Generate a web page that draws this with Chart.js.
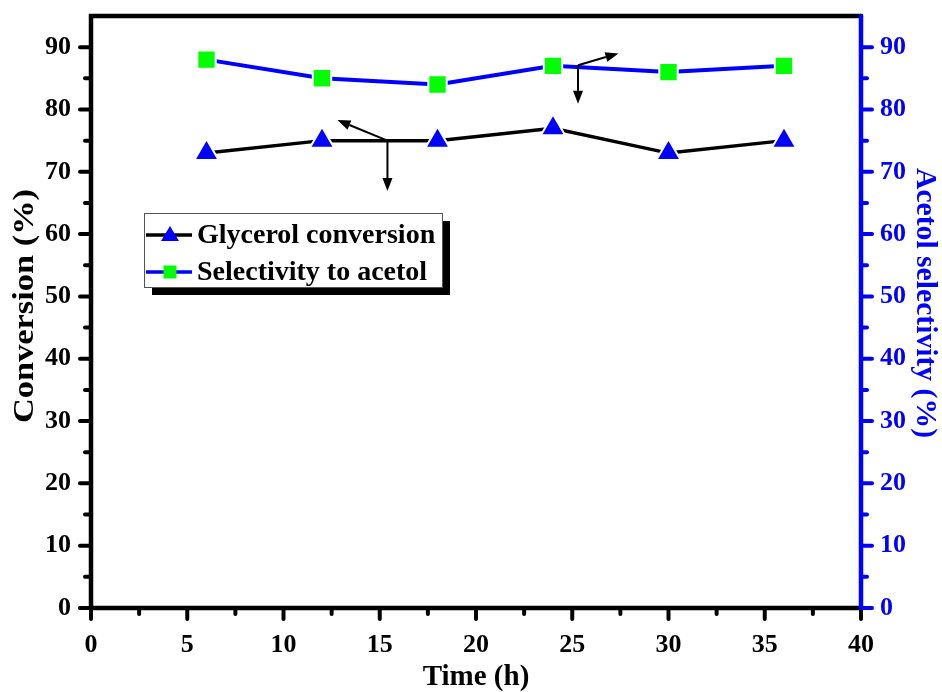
<!DOCTYPE html>
<html>
<head>
<meta charset="utf-8">
<title>Glycerol conversion and acetol selectivity</title>
<script src="https://cdn.jsdelivr.net/npm/chart.js@4"></script>
<style>
  html, body { margin: 0; padding: 0; background: #fff; }
  #wrap { width: 942px; height: 692px; }
</style>
</head>
<body>
<div id="wrap"><canvas id="chart" width="942" height="692"></canvas></div>
<script>
// time on stream (h)
const timeH = [6, 12, 18, 24, 30, 36];
// glycerol conversion (%)
const conversion = [73, 75, 75, 77, 73, 75];
// selectivity to acetol (%)
const selectivity = [88, 85, 84, 87, 86, 87];

const legendLabels = ['Glycerol conversion', 'Selectivity to acetol'];
const xTitle = 'Time (h)';
const yTitle = 'Conversion (%)';
const y2Title = 'Acetol selectivity (%)';

// arrows that point each curve to its axis: [from x, from y, to x, to y] in data units
const arrows = [
  [15.4, 75, 12.8, 78.3],
  [15.4, 75, 15.4, 66.9],
  [25.3, 87.1, 27.4, 89.0],
  [25.3, 87.1, 25.3, 80.9]
];

const FONT = "'Liberation Serif', 'Times New Roman', serif";
const BLUE = '#0000ff';
const GREEN = '#00ff00';

function toPoints(xs, ys) {
  return xs.map((x, i) => ({ x: x, y: ys[i] }));
}

// draw a rotated axis title, stretched along its length to the given size
function sideTitle(ctx, text, cx, cy, rot, length, color) {
  ctx.save();
  ctx.font = 'bold 30px ' + FONT;
  ctx.fillStyle = color;
  ctx.textAlign = 'center';
  ctx.textBaseline = 'middle';
  const w = ctx.measureText(text).width;
  ctx.translate(cx, cy);
  ctx.rotate(rot);
  ctx.scale(length / w, 1);
  ctx.fillText(text, 0, 0);
  ctx.restore();
}

// axis lines, outside major/minor ticks, legend box and arrows
const decorations = {
  id: 'decorations',
  beforeDatasetsDraw(chart) {
    const { ctx, chartArea: a, scales } = chart;
    const x = scales.x, y = scales.y, y2 = scales.y2;
    ctx.save();
    ctx.lineCap = 'round';

    // ticks on bottom axis
    ctx.strokeStyle = '#000';
    ctx.lineWidth = 4;
    for (let v = 0; v <= 40; v += 2.5) {
      const px = x.getPixelForValue(v);
      const len = v % 5 === 0 ? 11 : 6;
      ctx.beginPath();
      ctx.moveTo(px, a.bottom);
      ctx.lineTo(px, a.bottom + len);
      ctx.stroke();
    }
    // ticks on left axis
    for (let v = 0; v <= 90; v += 5) {
      const py = y.getPixelForValue(v);
      const len = v % 10 === 0 ? 11 : 6;
      ctx.beginPath();
      ctx.moveTo(a.left, py);
      ctx.lineTo(a.left - len, py);
      ctx.stroke();
    }
    // ticks on right axis
    ctx.strokeStyle = BLUE;
    for (let v = 0; v <= 90; v += 5) {
      const py = y2.getPixelForValue(v);
      const len = v % 10 === 0 ? 11 : 6;
      ctx.beginPath();
      ctx.moveTo(a.right, py);
      ctx.lineTo(a.right + len, py);
      ctx.stroke();
    }

    // frame
    ctx.lineWidth = 4.5;
    ctx.strokeStyle = '#000';
    ctx.beginPath();
    ctx.moveTo(a.left, a.bottom);
    ctx.lineTo(a.left, a.top);
    ctx.lineTo(a.right, a.top);
    ctx.moveTo(a.left, a.bottom);
    ctx.lineTo(a.right, a.bottom);
    ctx.stroke();
    ctx.strokeStyle = BLUE;
    ctx.beginPath();
    ctx.moveTo(a.right, a.top);
    ctx.lineTo(a.right, a.bottom);
    ctx.stroke();
    ctx.restore();

    sideTitle(ctx, yTitle, 25, 306, -Math.PI / 2, 234, '#000');
    sideTitle(ctx, y2Title, 925, 303, Math.PI / 2, 270, BLUE);
  },
  afterDatasetsDraw(chart) {
    const { ctx, scales } = chart;
    const x = scales.x, y = scales.y;
    ctx.save();

    // arrows
    ctx.strokeStyle = '#000';
    ctx.fillStyle = '#000';
    ctx.lineWidth = 2;
    arrows.forEach(([x0, y0, x1, y1]) => {
      const px0 = x.getPixelForValue(x0), py0 = y.getPixelForValue(y0);
      const px1 = x.getPixelForValue(x1), py1 = y.getPixelForValue(y1);
      const ang = Math.atan2(py1 - py0, px1 - px0);
      const hl = 13, hw = 5;
      const bx = px1 - hl * Math.cos(ang), by = py1 - hl * Math.sin(ang);
      ctx.beginPath();
      ctx.moveTo(px0, py0);
      ctx.lineTo(bx, by);
      ctx.stroke();
      ctx.beginPath();
      ctx.moveTo(px1, py1);
      ctx.lineTo(bx + hw * Math.sin(ang), by - hw * Math.cos(ang));
      ctx.lineTo(bx - hw * Math.sin(ang), by + hw * Math.cos(ang));
      ctx.closePath();
      ctx.fill();
    });

    // legend box with drop shadow
    const lx = 144, ly = 213, lw = 298, lh = 74;
    ctx.fillStyle = '#000';
    ctx.fillRect(lx + 8, ly + 8, lw, lh);
    ctx.fillStyle = '#fff';
    ctx.fillRect(lx, ly, lw, lh);
    ctx.strokeStyle = '#555';
    ctx.lineWidth = 1;
    ctx.strokeRect(lx + 0.5, ly + 0.5, lw, lh);

    const rows = [
      { y: ly + 22, line: '#000', marker: 'triangle', fill: BLUE },
      { y: ly + 59, line: BLUE, marker: 'rect', fill: GREEN }
    ];
    ctx.font = 'bold 28px ' + FONT;
    ctx.textBaseline = 'middle';
    ctx.textAlign = 'left';
    rows.forEach((r, i) => {
      ctx.strokeStyle = r.line;
      ctx.lineWidth = 3.5;
      ctx.beginPath();
      ctx.moveTo(lx + 2, r.y);
      ctx.lineTo(lx + 48, r.y);
      ctx.stroke();
      ctx.fillStyle = r.fill;
      const cx = lx + 26;
      ctx.beginPath();
      if (r.marker === 'triangle') {
        ctx.moveTo(cx, r.y - 9);
        ctx.lineTo(cx + 9, r.y + 6);
        ctx.lineTo(cx - 9, r.y + 6);
        ctx.closePath();
      } else {
        ctx.rect(cx - 6.5, r.y - 6.5, 13, 13);
      }
      ctx.fill();
      ctx.fillStyle = '#000';
      ctx.fillText(legendLabels[i], lx + 53, r.y + 1);
    });
    ctx.restore();
  }
};

const tickFont = { family: FONT, size: 26, weight: 'bold' };
const titleFont = { family: FONT, size: 29, weight: 'bold' };

function noPad(s) {
  s.paddingTop = 0;
  s.paddingBottom = 0;
}

new Chart(document.getElementById('chart'), {
  type: 'line',
  data: {
    datasets: [
      {
        label: legendLabels[0],
        data: toPoints(timeH, conversion),
        yAxisID: 'y',
        borderColor: '#000',
        borderWidth: 3.5,
        pointStyle: 'triangle',
        pointRadius: 14,
        pointBackgroundColor: BLUE,
        pointBorderColor: '#fff',
        pointBorderWidth: 2,
        tension: 0
      },
      {
        label: legendLabels[1],
        data: toPoints(timeH, selectivity),
        yAxisID: 'y2',
        borderColor: BLUE,
        borderWidth: 4,
        pointStyle: 'rect',
        pointRadius: 13,
        pointBackgroundColor: GREEN,
        pointBorderColor: '#fff',
        pointBorderWidth: 2,
        tension: 0
      }
    ]
  },
  options: {
    responsive: false,
    animation: false,
    events: [],
    layout: { padding: { top: 15, left: 0, right: 0, bottom: 0 } },
    plugins: {
      legend: { display: false },
      tooltip: { enabled: false }
    },
    scales: {
      x: {
        type: 'linear',
        min: 0,
        max: 40,
        grid: { display: false, drawTicks: false },
        border: { display: false },
        ticks: { stepSize: 5, font: tickFont, color: '#000', padding: 22, maxRotation: 0 },
        title: { display: true, text: xTitle, font: titleFont, color: '#000', padding: { top: 0, bottom: -3 } },
        afterFit(s) { s.height = 84; }
      },
      y: {
        position: 'left',
        min: 0,
        max: 95,
        grid: { display: false, drawTicks: false },
        border: { display: false },
        ticks: { stepSize: 10, font: tickFont, color: '#000', padding: 20 },
        afterBuildTicks(s) { s.ticks = s.ticks.filter(t => t.value % 10 === 0); },
        afterFit(s) { s.width = 91; noPad(s); }
      },
      y2: {
        position: 'right',
        min: 0,
        max: 95,
        grid: { display: false, drawTicks: false },
        border: { display: false },
        ticks: { stepSize: 10, font: tickFont, color: BLUE, padding: 19 },
        afterBuildTicks(s) { s.ticks = s.ticks.filter(t => t.value % 10 === 0); },
        afterFit(s) { s.width = 81; noPad(s); }
      }
    }
  },
  plugins: [decorations]
});
</script>
</body>
</html>
